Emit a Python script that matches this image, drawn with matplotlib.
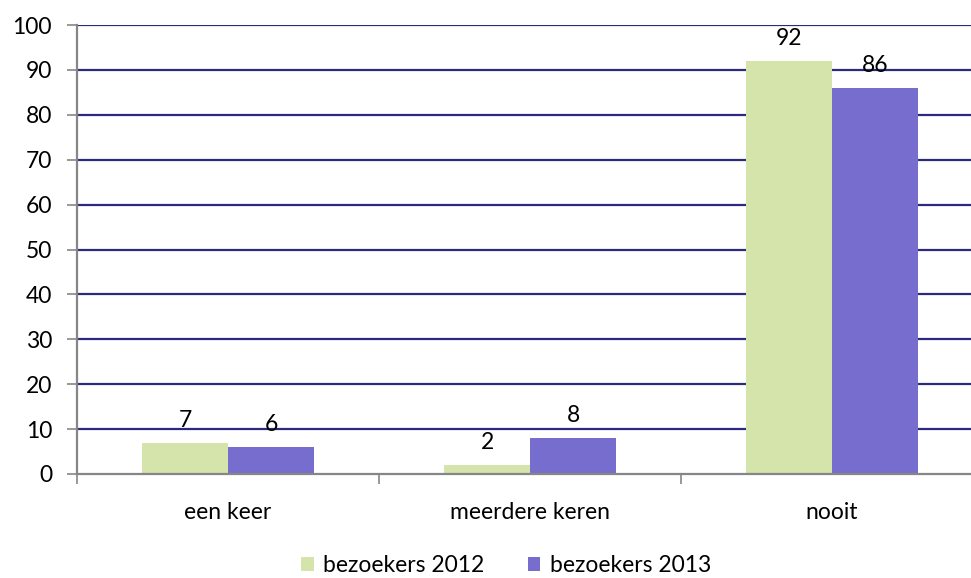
import matplotlib
matplotlib.use("Agg")
import matplotlib.pyplot as plt
import numpy as np

categories = ["een keer", "meerdere keren", "nooit"]
series_names = ["bezoekers 2012", "bezoekers 2013"]
values_2012 = [7, 2, 92]
values_2013 = [6, 8, 86]
yticks = [0, 10, 20, 30, 40, 50, 60, 70, 80, 90, 100]

plt.rcParams['font.family'] = ['Lato', 'DejaVu Sans']
FS = 16.5
W, H = 971, 578
fig = plt.figure(figsize=(W/100, H/100), dpi=100)
ax = fig.add_axes([77/W, 104/H, 906/W, 449/H])

x = np.arange(len(categories))
bw = 86/302
c1, c2 = "#D4E4AB", "#776DCF"
b1 = ax.bar(x - bw/2, values_2012, bw, color=c1, label=series_names[0], zorder=3)
b2 = ax.bar(x + bw/2, values_2013, bw, color=c2, label=series_names[1], zorder=3)
for bars, vals in ((b1, values_2012), (b2, values_2013)):
    for r, v in zip(bars, vals):
        ax.annotate(str(v), (r.get_x() + r.get_width()/2, v), xytext=(0, 16),
                    textcoords='offset pixels', ha='center', va='baseline',
                    fontsize=FS, color='black', zorder=4)

ax.set_xlim(-0.5, 2.5)
ax.set_ylim(0, 100)
ax.set_yticks(yticks)
ax.set_yticklabels([str(t) for t in yticks], fontsize=FS)
for t in yticks[1:]:
    ax.axhline(t, color="#2B2A7C", lw=1.6, zorder=1)

ax.set_xticks([-0.5, 0.5, 1.5, 2.5])
ax.set_xticklabels([])
ax.set_xticks(x, minor=True)
ax.set_xticklabels(categories, minor=True, fontsize=FS)
ax.tick_params(axis='x', which='minor', length=0, pad=20)
ax.tick_params(axis='x', which='major', length=7, width=1.2, color="#868686", direction='out')
ax.tick_params(axis='y', length=7, width=1.2, color="#868686", direction='out', pad=11)

for s in ['top', 'right']:
    ax.spines[s].set_visible(False)
for s in ['left', 'bottom']:
    ax.spines[s].set_color("#868686")
    ax.spines[s].set_linewidth(1.6)
    ax.spines[s].set_zorder(5)

leg = fig.legend(handles=[b1, b2], loc='center', bbox_to_anchor=(506/W, 1 - 566/H),
                 ncol=2, frameon=False, fontsize=FS, handlelength=0.55, handleheight=0.55,
                 handletextpad=0.4, columnspacing=1.9)

fig.savefig("out.png", dpi=100)
